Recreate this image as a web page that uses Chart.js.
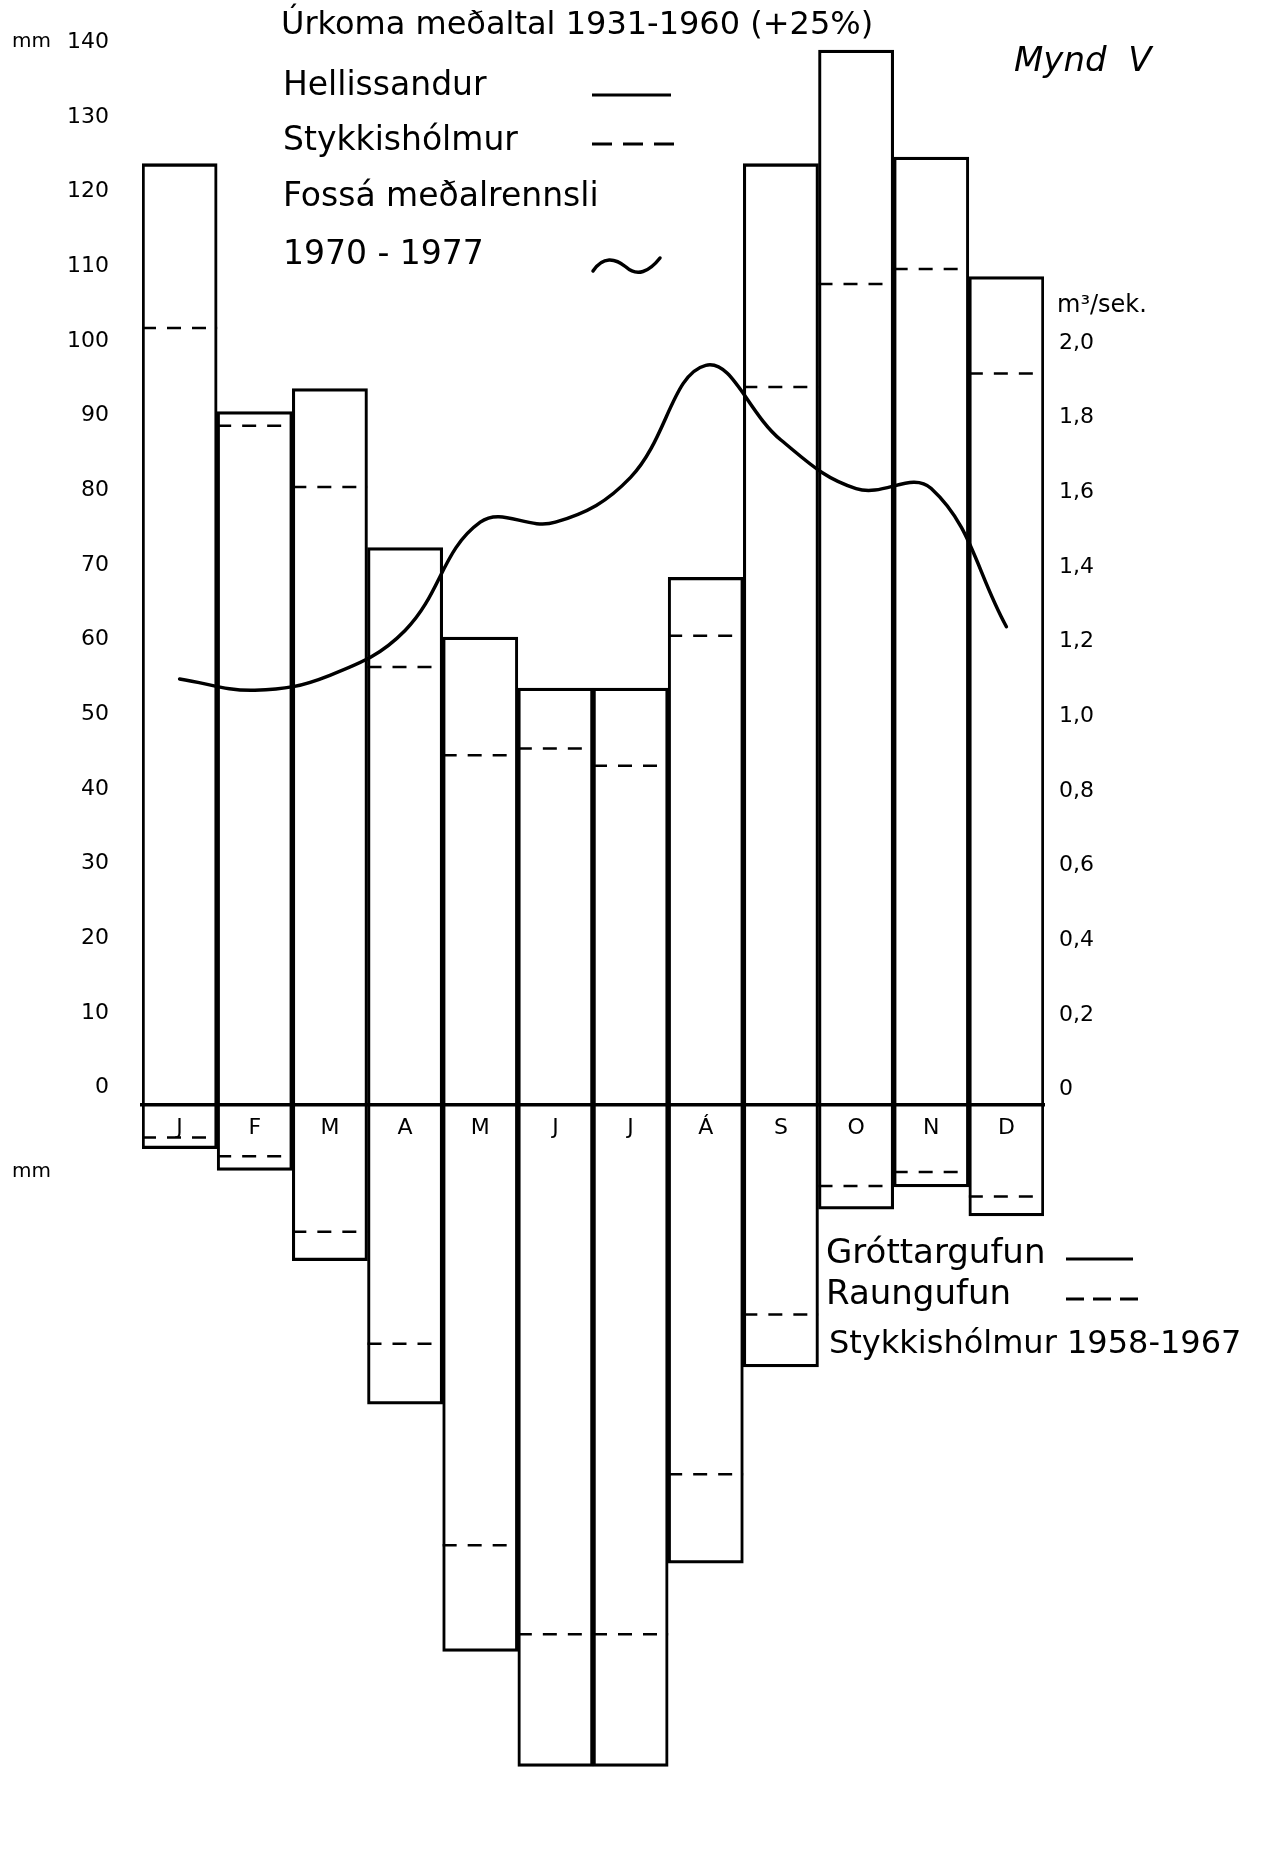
<!DOCTYPE html>
<html>
<head>
<meta charset="utf-8">
<title>Mynd V</title>
<script src="https://cdn.jsdelivr.net/npm/chart.js@4.4.1/dist/chart.umd.min.js"></script>
<style>
  html, body { margin: 0; padding: 0; background: #fff; }
  #wrap { width: 1261px; height: 1856px; }
</style>
</head>
<body>
<div id="wrap"><canvas id="chart" width="1261" height="1856"></canvas></div>
<script>
// ----------- Data -----------
const months = ["J", "F", "M", "A", "M", "J", "J", "Á", "S", "O", "N", "D"];
// Úrkoma meðaltal 1931-1960 (+25%), mm
const hellissandur = [126, 92.8, 95.9, 74.6, 62.6, 55.8, 55.8, 70.6, 126, 141.2, 126.9, 110.9];
const stykkisholmur = [104, 90.9, 82.7, 58.6, 46.8, 47.7, 45.4, 62.8, 96.1, 109.9, 111.9, 97.9];
// Uppgufun Stykkishólmur 1958-1967, mm (drawn downwards)
const grottargufun = [5.9, 8.8, 20.9, 40.1, 73.2, 88.6, 88.6, 61.4, 35.1, 14, 11, 14.9];
const raungufun = [4.4, 6.9, 17, 32, 59, 70.9, 70.9, 49.5, 28.1, 10.9, 9, 12.3];
// Fossá meðalrennsli 1970-1977, m3/sek
const fossa = [1.14, 1.11, 1.15, 1.27, 1.56, 1.56, 1.68, 1.98, 1.78, 1.65, 1.65, 1.28];

// tick labels
const precipTicks = [0, 10, 20, 30, 40, 50, 60, 70, 80, 90, 100, 110, 120, 130, 140];
const evapTicks = [10, 20, 30, 40, 50, 60, 70, 80, 90, 100];
const flowTicks = [0, 0.2, 0.4, 0.6, 0.8, 1.0, 1.2, 1.4, 1.6, 1.8, 2.0];

const black = "#000";
const FONT = "DejaVu Sans";
const tickFont = { family: FONT, size: 22 };

// dashed level inside each month column
const levelSteps = vals => vals.flatMap((v, i) => [
  { x: i - 0.5, y: v }, { x: i + 0.5, y: v }, { x: i + 0.5, y: null }
]);

const fixBox = w => s => { s.width = w; s.paddingTop = 0; s.paddingBottom = 0; };

// ----------- Texts and legend samples -----------
const figureText = {
  id: "figureText",
  afterDraw(chart) {
    const ctx = chart.ctx;
    const yS = chart.scales.y;
    const txt = (s, x, y, size, style) => {
      ctx.font = (style || "") + " " + size + "px \"" + FONT + "\"";
      ctx.fillText(s, x, y);
    };
    const seg = (x1, y1, x2, y2, dash) => {
      ctx.setLineDash(dash || []);
      ctx.beginPath(); ctx.moveTo(x1, y1); ctx.lineTo(x2, y2); ctx.stroke();
    };
    ctx.save();
    ctx.fillStyle = black;
    ctx.strokeStyle = black;
    ctx.textAlign = "left";
    ctx.textBaseline = "middle";

    txt("Úrkoma meðaltal 1931-1960 (+25%)", 281, 26, 32);
    txt("Hellissandur", 283, 86, 33);
    txt("Stykkishólmur", 283, 141, 33);
    txt("Fossá meðalrennsli", 283, 197, 33);
    txt("1970 - 1977", 283, 255, 33);
    txt("Mynd  V", 1014, 62, 34, "italic");
    txt("m³/sek.", 1057, 306, 24);

    txt("mm", 12, yS.getPixelForValue(140) - 17, 20);
    txt("mm", 12, yS.getPixelForValue(-10) - 8, 20);

    txt("Gróttargufun", 826, 1254, 34);
    txt("Raungufun", 826, 1295, 34);
    txt("Stykkishólmur 1958-1967", 829, 1345, 32);

    ctx.lineWidth = 3;
    seg(592, 95, 671, 95);
    seg(592, 144, 676, 144, [20, 11]);
    seg(1066, 1259, 1133, 1259);
    seg(1066, 1299, 1138, 1299, [18, 9]);

    ctx.setLineDash([]);
    ctx.lineWidth = 3.5;
    ctx.lineCap = "round";
    ctx.beginPath();
    ctx.moveTo(593, 271);
    ctx.bezierCurveTo(603, 256, 615, 258, 626, 267);
    ctx.bezierCurveTo(637, 277, 649, 272, 660, 258);
    ctx.stroke();
    ctx.restore();
  }
};

// ----------- Chart -----------
const ctx = document.getElementById("chart").getContext("2d");
new Chart(ctx, {
  type: "bar",
  data: {
    labels: months,
    datasets: [
      {
        type: "line", label: "Fossá meðalrennsli", data: fossa,
        xAxisID: "x", yAxisID: "y2", order: 0,
        borderColor: black, borderWidth: 3.5, pointRadius: 0, tension: 0.4,
        borderCapStyle: "round", borderJoinStyle: "round", fill: false
      },
      {
        type: "line", label: "Stykkishólmur", data: levelSteps(stykkisholmur),
        xAxisID: "xl", yAxisID: "y", order: 0,
        borderColor: black, borderWidth: 2.5, borderDash: [14, 11], pointRadius: 0,
        spanGaps: false, tension: 0, fill: false
      },
      {
        type: "line", label: "Raungufun", data: levelSteps(raungufun.map(v => -v)),
        xAxisID: "xl", yAxisID: "y", order: 0,
        borderColor: black, borderWidth: 2.5, borderDash: [14, 11], pointRadius: 0,
        spanGaps: false, tension: 0, fill: false
      },
      {
        label: "Hellissandur", data: hellissandur,
        xAxisID: "x", yAxisID: "y", order: 1, grouped: false,
        barPercentage: 1, categoryPercentage: 1,
        backgroundColor: "rgba(0,0,0,0)", borderColor: black,
        borderWidth: { top: 2.6, bottom: 2.6, left: 2.4, right: 2.4 }
      },
      {
        label: "Gróttargufun", data: grottargufun.map(v => -v),
        xAxisID: "x", yAxisID: "y", order: 1, grouped: false,
        barPercentage: 1, categoryPercentage: 1,
        backgroundColor: "rgba(0,0,0,0)", borderColor: black,
        borderWidth: { top: 2.6, bottom: 2.6, left: 2.4, right: 2.4 }
      }
    ]
  },
  options: {
    responsive: false,
    animation: false,
    devicePixelRatio: 1,
    layout: { padding: { top: 21.8, bottom: 4.5, left: 0, right: 0 } },
    plugins: { legend: { display: false }, tooltip: { enabled: false }, title: { display: false } },
    scales: {
      x: {
        type: "category", position: { y: 0 }, offset: true, z: 1,
        grid: { display: false, drawTicks: false },
        border: { display: true, color: black, width: 3.5 },
        ticks: { font: tickFont, color: black, padding: 10, maxRotation: 0, autoSkip: false },
        afterFit: s => { s.height = 0; s.paddingLeft = 0; s.paddingRight = 0; }
      },
      xl: { type: "linear", min: -0.5, max: 11.5, offset: false, display: false },
      y: {
        type: "linear", position: "left", weight: 1, min: -100, max: 145, bounds: "data",
        grid: { display: false, drawTicks: false }, border: { display: false },
        afterBuildTicks: s => { s.ticks = precipTicks.map(v => ({ value: v })); },
        ticks: { font: tickFont, color: black, padding: 33, labelOffset: -17, callback: v => String(v) },
        afterFit: fixBox(142)
      },
      yLow: {
        type: "linear", position: "left", weight: 0, min: -100, max: 145, bounds: "data",
        grid: { display: false, drawTicks: false }, border: { display: false },
        afterBuildTicks: s => { s.ticks = evapTicks.map(v => ({ value: -v })); },
        ticks: { font: tickFont, color: black, padding: 33, labelOffset: -8, callback: v => String(-v) },
        afterFit: fixBox(0)
      },
      y2: {
        type: "linear", position: "right", min: -2, max: 2.9, bounds: "data",
        grid: { display: false, drawTicks: false }, border: { display: false },
        afterBuildTicks: s => { s.ticks = flowTicks.map(v => ({ value: v })); },
        ticks: {
          font: tickFont, color: black, padding: 15, labelOffset: -15,
          callback: v => v === 0 ? "0" : v.toFixed(1).replace(".", ",")
        },
        afterFit: fixBox(217)
      }
    }
  },
  plugins: [figureText]
});
</script>
</body>
</html>
